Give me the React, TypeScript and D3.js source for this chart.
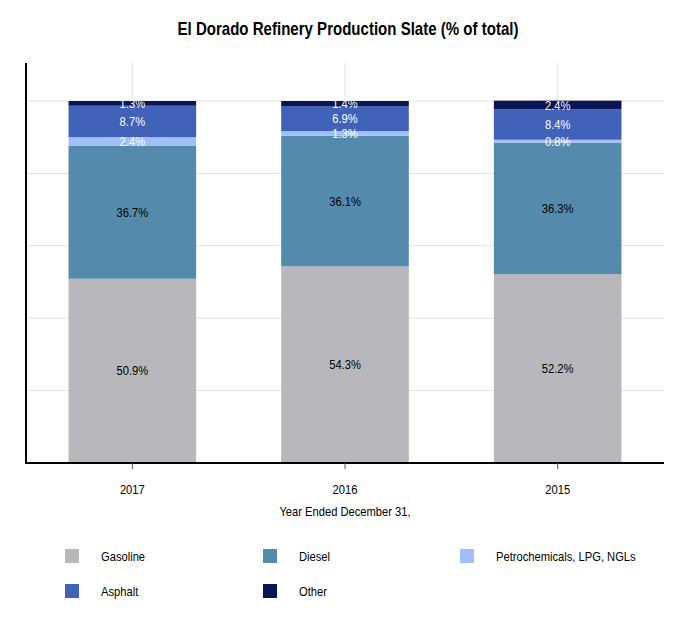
import React from "react";
import * as d3 from "d3";

const years = ["2017", "2016", "2015"];
const seriesNames = ["Gasoline", "Diesel", "Petrochemicals, LPG, NGLs", "Asphalt", "Other"];
const gasoline = [50.9, 54.3, 52.2];
const diesel = [36.7, 36.1, 36.3];
const petro = [2.4, 1.3, 0.8];
const asphalt = [8.7, 6.9, 8.4];
const other = [1.3, 1.4, 2.4];
const colors = ["#b7b7bc", "#548aab", "#a0bff8", "#4062b8", "#0b1556"];
const labelColors = ["#000", "#000", "#fff", "#fff", "#fff"];
const yTicks = [20, 40, 60, 80, 100];

const W = 696, H = 626;
const left = 26, right = 664, top = 63, bottom = 463;
const FONT = "'Liberation Sans', Arial, sans-serif";
const SX = 0.86;

function T(props: any) {
  const { x, y, children, ...rest } = props;
  return (
    <text transform={`translate(${x},${y}) scale(${SX},1)`} {...rest}>
      {children}
    </text>
  );
}

export default function App() {
  const values = [gasoline, diesel, petro, asphalt, other];
  const rows = years.map((y, i) => {
    const r: any = { year: y };
    seriesNames.forEach((s, j) => (r[s] = values[j][i]));
    return r;
  });
  const stack = d3.stack<any>().keys(seriesNames)(rows);
  const x = d3.scaleBand().domain(years).range([left, right]).paddingInner(0.4).paddingOuter(0.2);
  const y = d3.scaleLinear().domain([0, 110.5]).range([bottom, top]);

  const legendPos = [
    [65, 556], [263, 556], [460, 556], [65, 591], [263, 591],
  ];

  return (
    <svg width={W} height={H} style={{ position: "absolute", left: 0, top: 0, background: "#fff" }} fontFamily={FONT}>
      <T x={348} y={35} textAnchor="middle" fontSize={17.5} fontWeight="bold">
        El Dorado Refinery Production Slate (% of total)
      </T>
      {yTicks.map((t) => (
        <line key={t} x1={left} x2={right} y1={y(t)} y2={y(t)} stroke="#e2e2e2" strokeWidth={1} />
      ))}
      {years.map((yr) => (
        <line key={yr} x1={x(yr)! + x.bandwidth() / 2} x2={x(yr)! + x.bandwidth() / 2} y1={top} y2={bottom} stroke="#e2e2e2" strokeWidth={1} />
      ))}
      {stack.map((s, j) => (
        <g key={s.key}>
          {s.map((d, i) => (
            <rect key={i} x={x(years[i])!} width={x.bandwidth()} y={y(d[1])} height={y(d[0]) - y(d[1])} fill={colors[j]} />
          ))}
        </g>
      ))}
      {stack.map((s, j) => (
        <g key={s.key + "l"}>
          {s.map((d, i) => (
            <T key={i} x={x(years[i])! + x.bandwidth() / 2} y={(y(d[0]) + y(d[1])) / 2} dy="0.35em" textAnchor="middle" fontSize={13} fill={labelColors[j]}>
              {values[j][i].toFixed(1)}%
            </T>
          ))}
        </g>
      ))}
      <line x1={left} x2={left} y1={top} y2={bottom} stroke="#000" strokeWidth={2} />
      <line x1={left - 1} x2={right} y1={bottom} y2={bottom} stroke="#000" strokeWidth={2} />
      {years.map((yr) => (
        <g key={yr + "t"}>
          <line x1={x(yr)! + x.bandwidth() / 2} x2={x(yr)! + x.bandwidth() / 2} y1={bottom} y2={bottom + 6} stroke="#555" />
          <T x={x(yr)! + x.bandwidth() / 2} y={494} textAnchor="middle" fontSize={13}>{yr}</T>
        </g>
      ))}
      <T x={345} y={516} textAnchor="middle" fontSize={13}>Year Ended December 31,</T>
      {seriesNames.map((s, j) => (
        <g key={s + "lg"}>
          <rect x={legendPos[j][0]} y={legendPos[j][1] - 7} width={14} height={14} fill={colors[j]} />
          <T x={legendPos[j][0] + 36} y={legendPos[j][1]} dy="0.35em" fontSize={13}>{s}</T>
        </g>
      ))}
    </svg>
  );
}
